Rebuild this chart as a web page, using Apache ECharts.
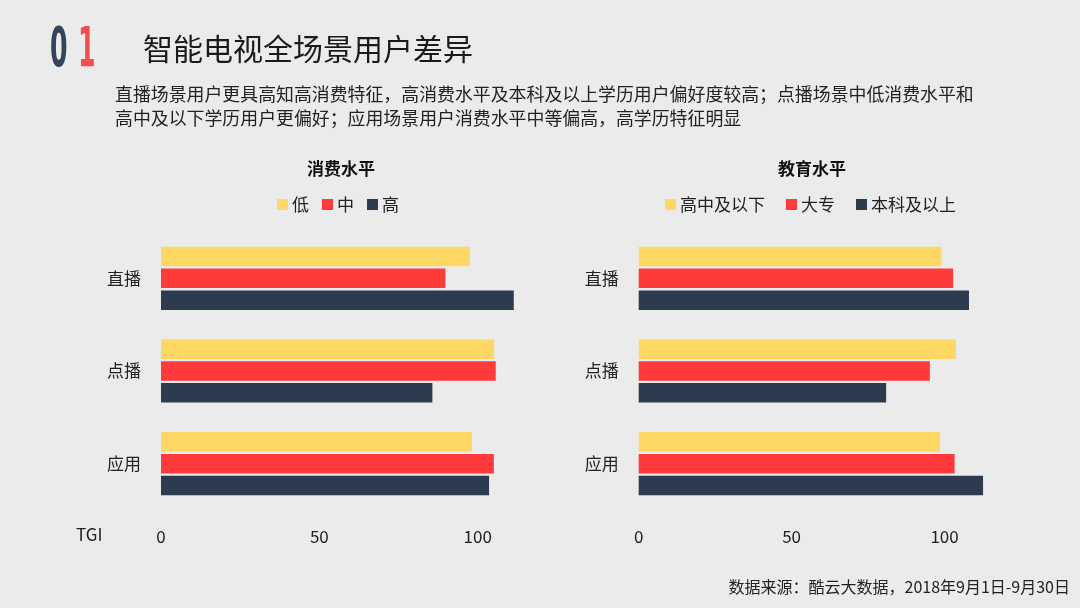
<!DOCTYPE html>
<html>
<head>
<meta charset="utf-8">
<script src="https://cdn.jsdelivr.net/npm/echarts@6/dist/echarts.min.js"></script>
<style>
html,body{margin:0;padding:0;background:#ebebeb;}
#c{width:1080px;height:608px;}
</style>
</head>
<body>
<div id="c"></div>
<script>
const categories = ['直播', '点播', '应用'];
const consumeNames = ['低', '中', '高'];
const consumeLow = [97.5, 105.2, 98.2];
const consumeMid = [89.8, 105.7, 105.1];
const consumeHigh = [111.4, 85.7, 103.6];
const eduNames = ['高中及以下', '大专', '本科及以上'];
const eduHigh = [99.0, 103.7, 98.5];
const eduCollege = [102.8, 95.2, 103.3];
const eduBachelor = [108.0, 80.9, 112.6];
const xTicks = [0, 50, 100];

const colors = ['#FDD865', '#FF3A3A', '#2C3B4D'];
const FONT = '"Microsoft YaHei","Noto Sans CJK SC",sans-serif';

const chart = echarts.init(document.getElementById('c'), null, {renderer: 'canvas'});

function xAxisCfg(gridIndex) {
  return {
    type: 'value', gridIndex, min: 0, max: 120, interval: 50,
    axisLine: {show: false}, axisTick: {show: false}, splitLine: {show: false},
    axisLabel: {
      showMaxLabel: false, margin: 18, fontSize: 17, color: '#222', fontFamily: FONT,
      formatter: v => xTicks.indexOf(v) >= 0 ? String(v) : ''
    }
  };
}
function yAxisCfg(gridIndex) {
  return {
    type: 'category', gridIndex, data: categories, inverse: true,
    axisLine: {show: false}, axisTick: {show: false}, splitLine: {show: false},
    axisLabel: {margin: 20, fontSize: 17, color: '#222', fontFamily: FONT}
  };
}
function barSeries(name, data, idx, axisIdx) {
  return {
    name, type: 'bar', data, xAxisIndex: axisIdx, yAxisIndex: axisIdx,
    barWidth: 19.5, barGap: '12%',
    itemStyle: {color: colors[idx]},
    emphasis: {disabled: true}
  };
}

chart.setOption({
  backgroundColor: '#ebebeb',
  animation: false,
  textStyle: {fontFamily: FONT},
  title: [
    {text: '消费水平', left: 336, top: 155, textAlign: 'center',
     textStyle: {fontSize: 17, fontWeight: 'bold', color: '#111', fontFamily: FONT}},
    {text: '教育水平', left: 807, top: 155, textAlign: 'center',
     textStyle: {fontSize: 17, fontWeight: 'bold', color: '#111', fontFamily: FONT}}
  ],
  legend: [
    {data: consumeNames, left: 277, top: 196, padding: 0, itemWidth: 11, itemHeight: 11, itemGap: 13,
     icon: 'rect', textStyle: {fontSize: 17, color: '#222', fontFamily: FONT, padding: [0, 0, 0, -1]}},
    {data: eduNames, left: 665, top: 196, padding: 0, itemWidth: 11, itemHeight: 11, itemGap: 21,
     icon: 'rect', textStyle: {fontSize: 17, color: '#222', fontFamily: FONT, padding: [0, 0, 0, -1]}}
  ],
  grid: [
    {left: 161, top: 232, width: 380, height: 278},
    {left: 638.7, top: 232, width: 367, height: 278}
  ],
  xAxis: [xAxisCfg(0), xAxisCfg(1)],
  yAxis: [yAxisCfg(0), yAxisCfg(1)],
  series: [
    barSeries(consumeNames[0], consumeLow, 0, 0),
    barSeries(consumeNames[1], consumeMid, 1, 0),
    barSeries(consumeNames[2], consumeHigh, 2, 0),
    barSeries(eduNames[0], eduHigh, 0, 1),
    barSeries(eduNames[1], eduCollege, 1, 1),
    barSeries(eduNames[2], eduBachelor, 2, 1)
  ],
  graphic: [
    {type: 'text', x: 50, y: 23, scaleX: 0.5, style: {
      text: '0', fontSize: 56, fontWeight: 'bold', fontFamily: 'DejaVu Sans Condensed',
      fill: '#33455b',
      shadowBlur: 6, shadowColor: 'rgba(0,0,0,0.3)', shadowOffsetX: 3, shadowOffsetY: 3}},
    {type: 'text', x: 78, y: 23, scaleX: 0.5, style: {
      text: '1', fontSize: 56, fontWeight: 'bold', fontFamily: 'DejaVu Sans Condensed',
      fill: '#f24f52',
      shadowBlur: 6, shadowColor: 'rgba(0,0,0,0.3)', shadowOffsetX: 3, shadowOffsetY: 3}},
    {type: 'text', left: 143, top: 34, style: {
      text: '智能电视全场景用户差异', fontSize: 30, fill: '#1a1a1a', fontFamily: FONT}},
    {type: 'text', left: 115, top: 82, style: {
      text: '直播场景用户更具高知高消费特征，高消费水平及本科及以上学历用户偏好度较高；点播场景中低消费水平和\n高中及以下学历用户更偏好；应用场景用户消费水平中等偏高，高学历特征明显',
      fontSize: 17.9, lineHeight: 24, fill: '#222', fontFamily: FONT}},
    {type: 'text', left: 76, top: 526, style: {
      text: 'TGI', fontSize: 17, fill: '#222', fontFamily: FONT}},
    {type: 'text', right: 10, top: 579, style: {
      text: '数据来源：酷云大数据，2018年9月1日-9月30日', fontSize: 16, fill: '#222', fontFamily: FONT}}
  ]
});
</script>
</body>
</html>
